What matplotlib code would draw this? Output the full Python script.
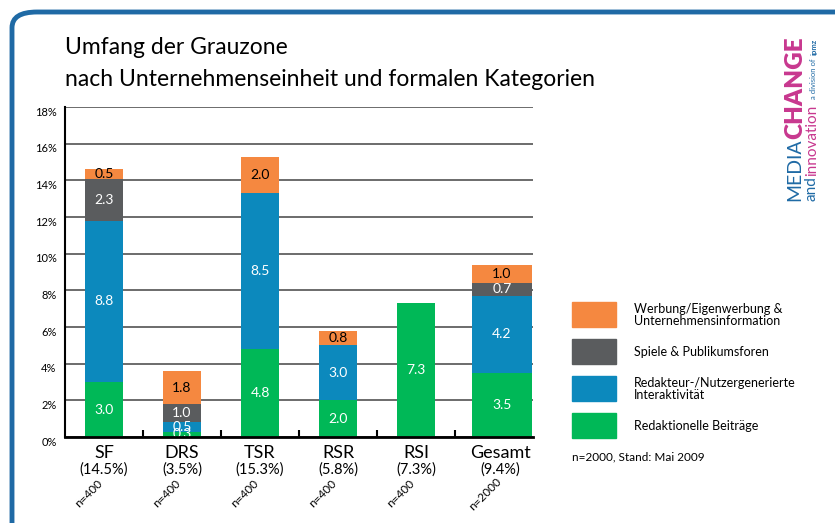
import matplotlib.pyplot as plt
import numpy as np
from matplotlib.patches import FancyBboxPatch
from matplotlib.transforms import ScaledTranslation

# Daten
kategorien = ['SF', 'DRS', 'TSR', 'RSR', 'RSI', 'Gesamt']
anteile = ['(14.5%)', '(3.5%)', '(15.3%)', '(5.8%)', '(7.3%)', '(9.4%)']
stichprobe = ['n=400', 'n=400', 'n=400', 'n=400', 'n=400', 'n=2000']

redaktionell = [3.0, 0.3, 4.8, 2.0, 7.3, 3.5]
interaktiv = [8.8, 0.5, 8.5, 3.0, 0.0, 4.2]
spiele = [2.3, 1.0, 0.0, 0.0, 0.0, 0.7]
werbung = [0.5, 1.8, 2.0, 0.8, 0.0, 1.0]

serien = [redaktionell, interaktiv, spiele, werbung]
farben = ['#00b857', '#0c89bd', '#5a5c5e', '#f58840']
textfarben = ['white', 'white', 'white', 'black']
legende = ['Werbung/Eigenwerbung &\nUnternehmensinformation',
           'Spiele & Publikumsforen',
           'Redakteur-/Nutzergenerierte\nInteraktivität',
           'Redaktionelle Beiträge']

plt.rcParams['font.family'] = ['Lato', 'DejaVu Sans']

W, H = 835, 523
fig = plt.figure(figsize=(W / 100, H / 100), dpi=100)

def fx(x):
    return x / W

def fy(y):
    return 1 - y / H

# Rahmen
rahmen = FancyBboxPatch((fx(12), fy(560)), fx(900), fy(12) - fy(560),
                        boxstyle='round,pad=0,rounding_size=0.03',
                        transform=fig.transFigure, fill=False,
                        edgecolor='#1f6aa5', linewidth=3.5, clip_on=False)
fig.patches.append(rahmen)

ax = fig.add_axes([fx(65), fy(437), fx(533) - fx(65), fy(107) - fy(437)])

x = np.arange(len(kategorien))
breiten = np.array([0.49] * 5 + [0.77])
x_pos = x.astype(float)
x_pos[-1] += 0.1

unten = np.zeros(len(kategorien))
for werte, farbe, tf in zip(serien, farben, textfarben):
    werte = np.array(werte)
    ax.bar(x_pos, werte, breiten, bottom=unten, color=farbe, zorder=3)
    for xi, u, w in zip(x_pos, unten, werte):
        if w > 0:
            ax.text(xi, u + w / 2, f'{w:.1f}', ha='center', va='center',
                    color=tf, fontsize=10, zorder=4)
    unten += werte

ax.set_xlim(-0.5, 5.5)
ax.set_ylim(0, 18)
ax.set_yticks(range(0, 19, 2))
ax.set_yticklabels([f'{v}%' for v in range(0, 19, 2)], fontsize=8)
ax.yaxis.grid(True, color='#444444', linewidth=1.1, zorder=0)
ax.tick_params(axis='y', length=0, pad=6)
for lab in ax.get_yticklabels():
    lab.set_transform(lab.get_transform() + ScaledTranslation(0, -0.04, fig.dpi_scale_trans))

ax.set_xticks(np.arange(0.5, 5, 1))
ax.set_xticklabels([])
ax.tick_params(axis='x', direction='in', length=5, width=1.5, color='black')

for s in ['top', 'right']:
    ax.spines[s].set_visible(False)
ax.spines['left'].set_linewidth(1.5)
ax.spines['bottom'].set_linewidth(2)
ax.spines['bottom'].set_zorder(5)

# Beschriftung unter den Balken
label_x = x.astype(float)
label_x[-1] += 0.08
for xi, k, a, n in zip(label_x, kategorien, anteile, stichprobe):
    ax.text(xi, -0.85, k, ha='center', va='center', fontsize=13, clip_on=False)
    ax.text(xi, -1.8, a, ha='center', va='center', fontsize=10.5, clip_on=False)
    ax.text(xi - 0.2, -3.1, n, ha='center', va='center', fontsize=8.5,
            rotation=45, clip_on=False)

# Titel
fig.text(fx(65), fy(48), 'Umfang der Grauzone', fontsize=16.5, va='center')
fig.text(fx(65), fy(80), 'nach Unternehmenseinheit und formalen Kategorien',
         fontsize=16.5, va='center')

# Legende
for i, (lab, farbe) in enumerate(zip(legende, farben[::-1])):
    top = [302, 339, 376, 413][i]
    fig.patches.append(plt.Rectangle((fx(572), fy(top + 25)), fx(44), fy(top) - fy(top + 25),
                                     transform=fig.transFigure, color=farbe))
    fig.text(fx(634), fy(top + 13), lab, fontsize=9, va='center', linespacing=0.95)
fig.text(fx(572), fy(457), 'n=2000, Stand: Mai 2009', fontsize=8.5, va='center')

# Logo
fig.text(fx(795), fy(201), 'MEDIA', rotation=90, fontsize=14, color='#1f6aa5',
         va='bottom', ha='center')
fig.text(fx(795), fy(139), 'CHANGE', rotation=90, fontsize=17.5, color='#c8388f',
         fontweight='heavy', va='bottom', ha='center')
fig.text(fx(812), fy(201), 'and', rotation=90, fontsize=11, color='#1f6aa5',
         va='bottom', ha='center')
fig.text(fx(812), fy(176), 'innovation', rotation=90, fontsize=11, color='#c8388f',
         va='bottom', ha='center')
fig.text(fx(814), fy(99), 'a division of', rotation=90, fontsize=5.5, color='#1f6aa5',
         va='bottom', ha='center')
fig.text(fx(814), fy(55), 'ipmz', rotation=90, fontsize=5.5, color='#1f6aa5',
         fontweight='bold', va='bottom', ha='center')

fig.savefig('out.png', dpi=100)
